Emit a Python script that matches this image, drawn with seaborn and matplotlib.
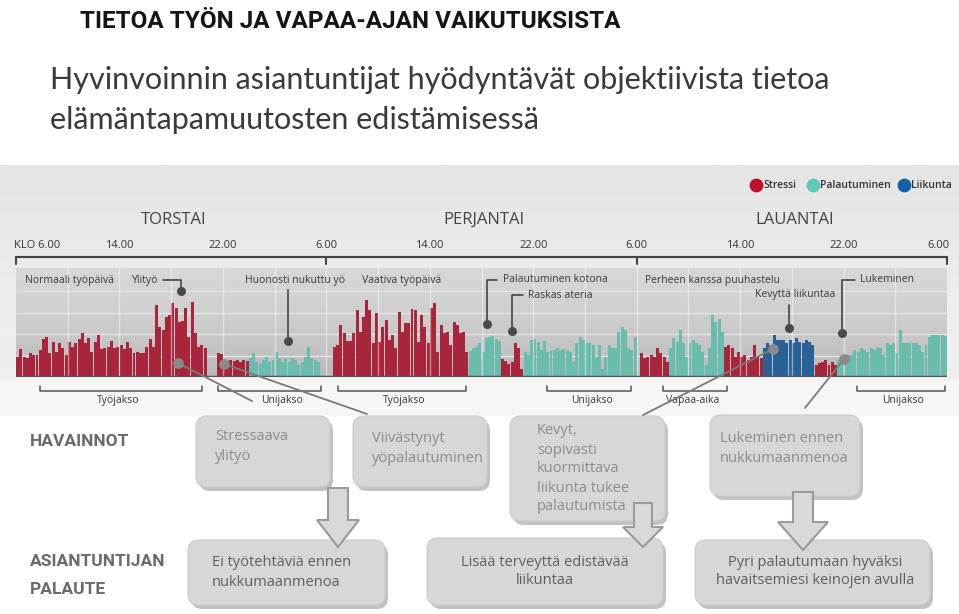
import matplotlib
matplotlib.use("Agg")

import matplotlib.pyplot as plt
import seaborn as sns
import numpy as np
import pandas as pd
from matplotlib.patches import FancyBboxPatch, Polygon, Rectangle
from matplotlib.colors import LinearSegmentedColormap
from matplotlib.transforms import blended_transform_factory

# 15 min samples, Thursday 6.00 -> Sunday 6.00 (values = bar height)
torstai_tyo = [20, 28, 20, 19, 24, 22, 22, 27, 38, 40, 24, 35, 25, 34, 29, 22, 35, 30, 34, 38,
               44, 34, 39, 25, 35, 42, 28, 29, 30, 36, 29, 30, 32, 28, 35, 29, 24, 25, 24, 24,
               30, 38, 30, 72, 50, 47, 60, 62, 74, 69, 55, 56, 69, 40, 75, 44, 30, 32, 29]
torstai_ilta = [24, 23, 15, 16, 17, 16, 17, 15, 17, 16]
torstai_yo = [19, 24, 15, 13, 17, 20, 15, 17, 25, 19, 15, 19, 15, 19, 17, 12, 15, 20, 30, 19, 17, 15]
perjantai_tyo = [30, 32, 52, 44, 36, 36, 44, 67, 45, 60, 77, 67, 34, 64, 35, 50, 57, 37, 42, 29,
                 65, 45, 54, 54, 68, 67, 35, 62, 50, 34, 69, 74, 25, 52, 44, 45, 32, 55, 52, 44,
                 45, 25]
perjantai_koti = [26, 29, 30, 34, 25, 39, 40, 41, 38, 36]
perjantai_ateria = [18, 16, 13, 15, 34, 29, 8]
perjantai_yo = [25, 22, 37, 38, 35, 27, 36, 25, 26, 27, 29, 27, 28, 27, 25, 15, 34, 40, 37, 34,
                34, 32, 20, 32, 8, 20, 32, 29, 29, 45, 50, 47, 29, 27, 40]
lauantai_aamu = [24, 19, 20, 22, 20, 29, 24, 20, 15]
lauantai_perhe = [29, 39, 35, 47, 34, 20, 34, 37, 34, 32, 25, 12, 29, 62, 55, 58, 45]
lauantai_ilta = [30, 32, 29, 20, 25, 20, 22, 17, 20, 32, 20, 19]
lauantai_liikunta = [29, 34, 32, 42, 37, 37, 37, 34, 37, 34, 39, 35, 34, 37, 35, 32]
lauantai_myohä = [12, 14, 15, 17, 12, 15, 12]
lauantai_yo = [17, 19, 20, 22, 22, 27, 25, 29, 27, 25, 29, 27, 30, 29, 22, 34, 32, 34, 24, 47,
               34, 34, 34, 34, 34, 32, 25, 32, 40, 42, 42, 42, 42, 41]

segments = [("Stressi", torstai_tyo), (None, [0] * 3), ("Stressi", torstai_ilta),
            ("Palautuminen", torstai_yo), (None, [0] * 4), ("Stressi", perjantai_tyo),
            ("Palautuminen", perjantai_koti), ("Stressi", perjantai_ateria),
            ("Palautuminen", perjantai_yo), (None, [0]), ("Stressi", lauantai_aamu),
            ("Palautuminen", lauantai_perhe), ("Stressi", lauantai_ilta),
            ("Liikunta", lauantai_liikunta), ("Stressi", lauantai_myohä),
            ("Palautuminen", lauantai_yo)]

states = ["Stressi", "Palautuminen", "Liikunta"]
colors = {"Stressi": "#be0f2d", "Palautuminen": "#5ccab6", "Liikunta": "#1461aa"}

tick_hours = [0, 8, 16, 24, 32, 40, 48, 56, 64, 72]
tick_labels = ["KLO 6.00", "14.00", "22.00", "6.00", "14.00", "22.00", "6.00", "14.00", "22.00", "6.00"]
days = ["TORSTAI", "PERJANTAI", "LAUANTAI"]

rows = []
for state, vals in segments:
    for v in vals:
        rows.append((state, v))
df = pd.DataFrame(rows, columns=["tila", "kuormitus"])
df["tunti"] = np.arange(len(df)) * 0.25 + 0.125
df = df[df["tila"].notna()]

sns.set_theme(style="white")
plt.rcParams["font.family"] = ["Open Sans", "DejaVu Sans"]
narrow = ["Roboto", "DejaVu Sans"]

fig = plt.figure(figsize=(9.59, 6.14), dpi=100)
bg = fig.add_axes([0, 0, 1, 1], zorder=0)
bg.set_xlim(0, 959)
bg.set_ylim(614, 0)
bg.axis("off")

# panel background
grad = np.linspace(0, 1, 100).reshape(-1, 1)
panel_cm = LinearSegmentedColormap.from_list("panel", ["#e5e5e5", "#ededed", "#f0f0f0"])
bg.imshow(grad, extent=[0, 959, 415, 165], cmap=panel_cm, aspect="auto", zorder=0)
bg.add_patch(Rectangle((0, 380), 959, 35, color="#f6f6f6", zorder=1))
bg.set_xlim(0, 959)
bg.set_ylim(614, 0)

# bar chart
ax = fig.add_axes([16 / 959, 237 / 614, 931 / 959, 109 / 614], zorder=2)
ax.patch.set_alpha(0)
band_cm = LinearSegmentedColormap.from_list("band", ["#d8d8d8", "#cdcdcd", "#b9b9bb"])
ax.imshow(grad, extent=[0, 72, 0, 109], cmap=band_cm, aspect="auto", zorder=0)
for y in [21.5, 43, 64.5, 86]:
    ax.axhline(y, color="#e4e4e4", lw=1, zorder=1)

sns.barplot(data=df, x="tunti", y="kuormitus", hue="tila", hue_order=states, palette=colors,
            native_scale=True, dodge=False, width=0.92, errorbar=None, legend=False,
            linewidth=0, ax=ax, zorder=2)
for h in range(4, 72, 4):
    ax.axvline(h, color="white", lw=1, alpha=0.45, zorder=3)
ax.axhline(0, color="#555555", lw=2.5, zorder=4)
ax.set_xlim(0, 72)
ax.set_ylim(0, 109)
ax.axis("off")

# overlay for annotations
ov = fig.add_axes([0, 0, 1, 1], zorder=3)
ov.patch.set_alpha(0)
ov.set_xlim(0, 959)
ov.set_ylim(614, 0)
ov.axis("off")
tr = blended_transform_factory(ax.transData, ov.transData)

ov.text(80, 21, "TIETOA TYÖN JA VAPAA-AJAN VAIKUTUKSISTA", family=narrow, weight="bold",
        size=17.5, color="#151515", va="center")
ov.text(50, 80, "Hyvinvoinnin asiantuntijat hyödyntävät objektiivista tietoa",
        family=["Lato", "DejaVu Sans"], weight="normal", size=22, color="#3a3a3a", va="center")
ov.text(50, 120, "elämäntapamuutosten edistämisessä", family=["Lato", "DejaVu Sans"],
        weight="normal", size=22, color="#3a3a3a", va="center")

# legend
for lx, name in zip([756, 813, 904], states):
    ov.scatter(lx, 185, s=80, color=colors[name], zorder=5)
    ov.text(lx + 7, 185, name, size=7.5, color="#333333", va="center", weight="semibold")

# timeline
ov.plot([0, 72], [257, 257], color="#444444", lw=1.5, transform=tr)
for h in [0, 24, 48, 72]:
    ov.plot([h, h], [257, 264], color="#444444", lw=1.5, transform=tr)
for h, lab in zip(tick_hours, tick_labels):
    ha = "left" if h == 0 else ("right" if h == 72 else "center")
    xoff = -0.15 if h == 0 else (0.2 if h == 72 else 0)
    ov.text(h + xoff, 245, lab, transform=tr, ha=ha, va="center", size=8, color="#333333")
for i, d in enumerate(days):
    ov.text(12.2 + 24 * i, 220, d, transform=tr, ha="center", va="center", size=12, color="#444444")

# top annotations
lab_kw = dict(size=7.5, color="#3a3a3a", va="center")
ov.text(25, 280, "Normaali työpäivä", **lab_kw)
ov.text(132, 280, "Ylityö", **lab_kw)
ov.plot([163, 181, 181], [280, 280, 291], color="#444444", lw=1.2)
ov.text(245, 280, "Huonosti nukuttu yö", **lab_kw)
ov.plot([288, 288], [290, 341], color="#444444", lw=1.2)
ov.text(362, 280, "Vaativa työpäivä", **lab_kw)
ov.text(503, 280, "Palautuminen kotona", **lab_kw)
ov.plot([497, 487, 487], [280, 280, 324], color="#444444", lw=1.2)
ov.text(528, 295, "Raskas ateria", **lab_kw)
ov.plot([523, 512, 512], [295, 295, 331], color="#444444", lw=1.2)
ov.text(645, 280, "Perheen kanssa puuhastelu", **lab_kw)
ov.text(755, 295, "Kevyttä liikuntaa", **lab_kw)
ov.plot([789, 789], [305, 328], color="#444444", lw=1.2)
ov.text(860, 280, "Lukeminen", **lab_kw)
ov.plot([855, 842, 842], [280, 280, 333], color="#444444", lw=1.2)
ov.scatter([181, 288, 487, 512, 789, 842], [291, 341, 324, 331, 328, 333], s=30,
           color="#4a4a4a", zorder=6)

# links from bars to observations
for (x0, y0), (x1, y1) in [((178, 363), (252, 401)), ((224, 364), (367, 414)),
                           ((773, 349), (643, 415)), ((844, 359), (805, 408))]:
    ov.plot([x0, x1], [y0, y1], color="#7a7a7a", lw=1.3, zorder=5)
    ov.scatter(x0, y0, s=45, color="#8a8a8a", zorder=6)

# period brackets
for x0, x1, lx, lab in [(40, 202, 118, "Työjakso"), (218, 321, 282, "Unijakso"),
                        (338, 466, 404, "Työjakso"), (547, 631, 592, "Unijakso"),
                        (663, 727, 693, "Vapaa-aika"), (857, 945, 903, "Unijakso")]:
    ov.plot([x0, x0, x1, x1], [386, 391, 391, 386], color="#555555", lw=1.1)
    ov.text(lx, 401, lab, ha="center", va="center", size=7.5, color="#3a3a3a")


# boxes
def box(x, y, w, h, lines, line_y, color, ha="left", tx=None):
    bg.add_patch(FancyBboxPatch((x + 3, y + 4), w, h, boxstyle="round,pad=0,rounding_size=11",
                                facecolor="#a9a9a9", edgecolor="none", alpha=0.7, zorder=2))
    bg.add_patch(FancyBboxPatch((x, y), w, h, boxstyle="round,pad=0,rounding_size=11",
                                facecolor="#d7d7d7", edgecolor="#cbcbcb", lw=0.8, zorder=3))
    for ln, ly in zip(lines, line_y):
        bg.text(tx, ly, ln, ha=ha, va="center", size=10.5, color=color, zorder=4)


box(196, 416, 134, 71, ["Stressaava", "ylityö"], [437, 456], "#8d8d8d", tx=215)
box(353, 416, 134, 71, ["Viivästynyt", "yöpalautuminen"], [439, 458], "#8d8d8d", tx=372)
box(510, 416, 155, 105, ["Kevyt,", "sopivasti", "kuormittava", "liikunta tukee", "palautumista"],
    [431, 450, 469, 488, 507], "#8d8d8d", tx=537)
box(710, 415, 150, 81, ["Lukeminen ennen", "nukkumaanmenoa"], [438, 458], "#8d8d8d", tx=720)
box(188, 540, 197, 65, ["Ei työtehtäviä ennen", "nukkumaanmenoa"], [563, 582], "#5f5f5f", tx=212)
box(427, 538, 236, 67, ["Lisää terveyttä edistävää", "liikuntaa"], [562, 581], "#5f5f5f",
    ha="center", tx=545)
box(695, 540, 235, 65, ["Pyri palautumaan hyväksi", "havaitsemiesi keinojen avulla"], [562, 581],
    "#5f5f5f", ha="center", tx=815)

# arrows
for cx, y0, yh, yt, sw, hw in [(338, 488, 520, 547, 10, 21), (643, 503, 527, 547, 9, 20),
                               (803, 492, 522, 550, 10, 25)]:
    pts = [(cx - sw, y0), (cx + sw, y0), (cx + sw, yh), (cx + hw, yh), (cx, yt),
           (cx - hw, yh), (cx - sw, yh)]
    bg.add_patch(Polygon(pts, closed=True, facecolor="#d9d9d9", edgecolor="#9a9a9a", lw=1.5, zorder=5))

bg.text(30, 442, "HAVAINNOT", family=narrow, weight="bold", size=12.5, color="#6a6a6a", va="center")
bg.text(30, 561, "ASIANTUNTIJAN", family=narrow, weight="bold", size=12.5, color="#6a6a6a", va="center")
bg.text(30, 590, "PALAUTE", family=narrow, weight="bold", size=12.5, color="#6a6a6a", va="center")

fig.savefig("out.png", dpi=100)
plt.close(fig)
